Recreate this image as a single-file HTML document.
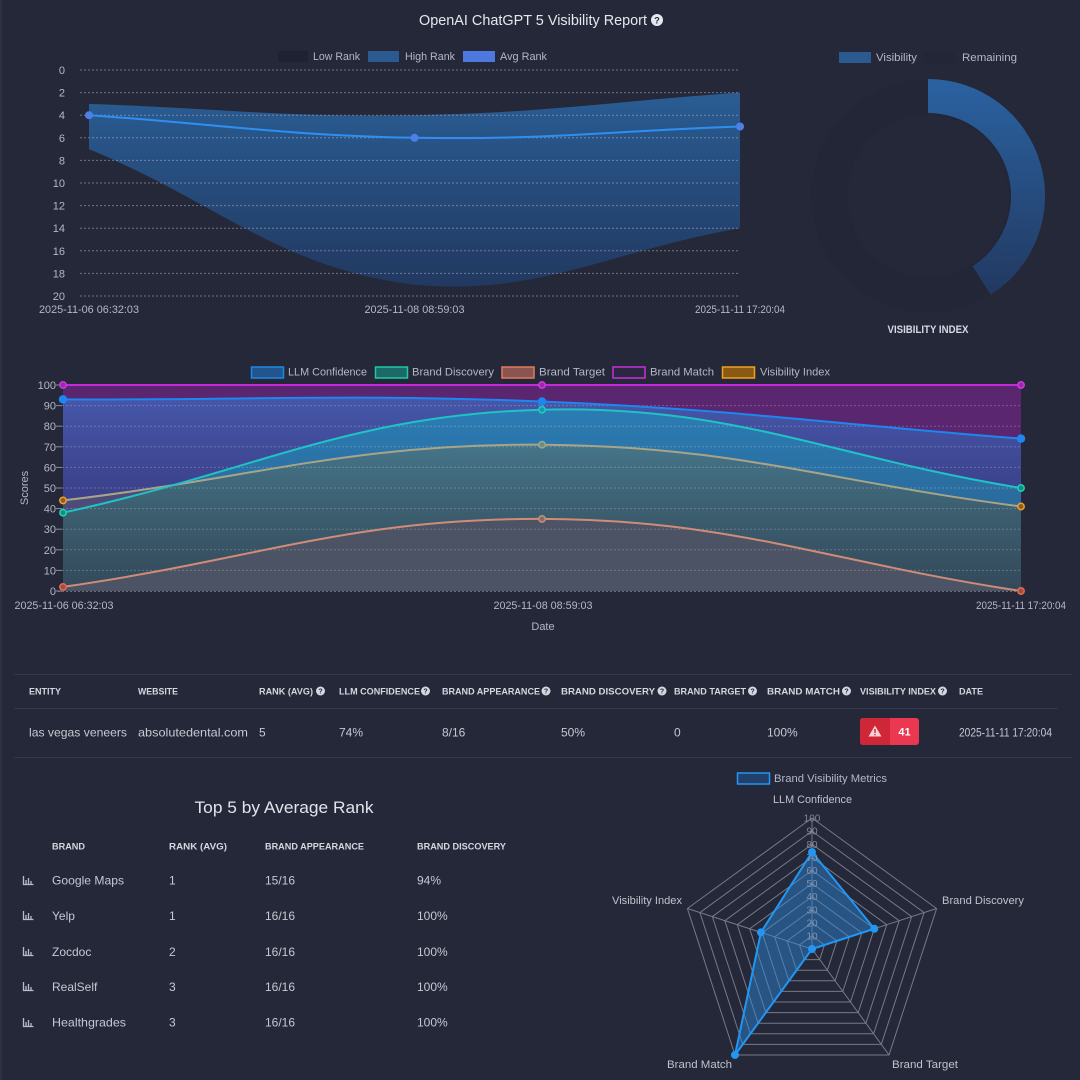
<!DOCTYPE html>
<html><head><meta charset="utf-8"><style>
html,body{margin:0;padding:0;background:#252839;}
svg{display:block;}
text{font-family:"Liberation Sans",sans-serif;}
</style></head><body>
<svg width="1080" height="1080" viewBox="0 0 1080 1080" xmlns="http://www.w3.org/2000/svg">
<defs>
<linearGradient id="band" x1="0" y1="90" x2="0" y2="296" gradientUnits="userSpaceOnUse">
<stop offset="0" stop-color="#2a5d94"/><stop offset="1" stop-color="#21375e"/></linearGradient>
<linearGradient id="vis" x1="0" y1="79" x2="0" y2="300" gradientUnits="userSpaceOnUse">
<stop offset="0" stop-color="#2a62a1"/><stop offset="1" stop-color="#22385f"/></linearGradient>
<linearGradient id="llmg" x1="0" y1="395" x2="0" y2="591" gradientUnits="userSpaceOnUse">
<stop offset="0" stop-color="#4657aa"/><stop offset="0.6" stop-color="#3a3d85"/><stop offset="1" stop-color="#363a78"/></linearGradient>
<linearGradient id="discg" x1="0" y1="405" x2="0" y2="520" gradientUnits="userSpaceOnUse">
<stop offset="0" stop-color="#2b7db5"/><stop offset="1" stop-color="#2b6898"/></linearGradient>
<linearGradient id="eg" x1="0" y1="440" x2="0" y2="591" gradientUnits="userSpaceOnUse">
<stop offset="0" stop-color="#46768b"/><stop offset="0.5" stop-color="#3b5d6e"/><stop offset="1" stop-color="#33495a"/></linearGradient>
<clipPath id="discclip"><path d="M63,512.7 C254.6,471.5 349.5,414.7 542,409.7 C732.6,404.8 829.4,456.7 1021,488 L1021,591 L63,591 Z"/></clipPath>
</defs>

<rect x="0" y="0" width="1080" height="1080" fill="#252839"/>
<rect x="0" y="0" width="2" height="1080" fill="#2d3144"/>

<!-- Title -->
<text x="419" y="25" font-size="15" fill="#e6e7ee" textLength="228" lengthAdjust="spacingAndGlyphs">OpenAI ChatGPT 5 Visibility Report</text>
<circle cx="657" cy="20" r="6" fill="#e6e7ee"/>
<text x="657" y="23.5" font-size="9" font-weight="bold" fill="#252839" text-anchor="middle">?</text>

<!-- Top chart legend -->
<rect x="278" y="51" width="30" height="11" fill="#1f2232"/>
<text x="313" y="60" font-size="11" fill="#b4b7c4" textLength="47" lengthAdjust="spacingAndGlyphs">Low Rank</text>
<rect x="368" y="51" width="31" height="11" fill="#2a5a8f"/>
<text x="405" y="60" font-size="11" fill="#b4b7c4" textLength="50" lengthAdjust="spacingAndGlyphs">High Rank</text>
<rect x="463" y="51" width="32" height="11" fill="#4c78e0"/>
<text x="500" y="60" font-size="11" fill="#b4b7c4" textLength="47" lengthAdjust="spacingAndGlyphs">Avg Rank</text>

<!-- Top chart band -->
<path d="M89,103.9 C219.2,108.4 284.3,117.5 414.5,115.2 C544.7,112.9 609.8,101.6 740,92.6 L740,228.2 C609.8,250.8 540.5,296 414.5,284.7 C280.1,268.4 219.2,203.3 89,149.1 Z" fill="url(#band)"/>
<!-- top gridlines -->
<g stroke="#aeb0bd" stroke-opacity="0.55" stroke-width="1" stroke-dasharray="2 2">
<line x1="80" y1="70" x2="740" y2="70"/><line x1="80" y1="92.6" x2="740" y2="92.6"/>
<line x1="80" y1="115.2" x2="740" y2="115.2"/><line x1="80" y1="137.8" x2="740" y2="137.8"/>
<line x1="80" y1="160.4" x2="740" y2="160.4"/><line x1="80" y1="183" x2="740" y2="183"/>
<line x1="80" y1="205.6" x2="740" y2="205.6"/><line x1="80" y1="228.2" x2="740" y2="228.2"/>
<line x1="80" y1="250.8" x2="740" y2="250.8"/><line x1="80" y1="273.4" x2="740" y2="273.4"/>
<line x1="80" y1="296" x2="740" y2="296"/>
</g>
<g font-size="11" fill="#b4b7c4" text-anchor="end">
<text x="65" y="74">0</text><text x="65" y="96.6">2</text><text x="65" y="119.2">4</text>
<text x="65" y="141.8">6</text><text x="65" y="164.4">8</text><text x="65" y="187">10</text>
<text x="65" y="209.6">12</text><text x="65" y="232.2">14</text><text x="65" y="254.8">16</text>
<text x="65" y="277.4">18</text><text x="65" y="300">20</text>
</g>
<path d="M89,115.2 C219.2,124.2 284.3,135.5 414.5,137.8 C544.7,140.1 609.8,131 740,126.5" fill="none" stroke="#2f8ff0" stroke-width="2"/>
<g fill="#4f7fe6"><circle cx="89" cy="115.2" r="4"/><circle cx="414.5" cy="137.8" r="4"/><circle cx="740" cy="126.5" r="4"/></g>
<g font-size="11" fill="#b4b7c4" text-anchor="middle">
<text x="89" y="313" textLength="100" lengthAdjust="spacingAndGlyphs">2025-11-06 06:32:03</text>
<text x="414.5" y="313" textLength="100" lengthAdjust="spacingAndGlyphs">2025-11-08 08:59:03</text>
<text x="740" y="313" textLength="90" lengthAdjust="spacingAndGlyphs">2025-11-11 17:20:04</text>
</g>

<!-- Donut -->
<rect x="839" y="52" width="32" height="11" fill="#2a5a8f"/>
<text x="876" y="61" font-size="11" fill="#b4b7c4" textLength="41" lengthAdjust="spacingAndGlyphs">Visibility</text>
<rect x="923" y="52" width="32" height="11" fill="#232637"/>
<text x="962" y="61" font-size="11" fill="#b4b7c4" textLength="55" lengthAdjust="spacingAndGlyphs">Remaining</text>
<circle cx="928" cy="196" r="99" fill="none" stroke="#232636" stroke-width="36"/>
<path d="M928,79 A117,117 0 0 1 990.7,294.8 L972.5,266.1 A83,83 0 0 0 928,113 Z" fill="url(#vis)"/>
<text x="928" y="333" font-size="11" font-weight="bold" fill="#d8dae6" text-anchor="middle" textLength="81" lengthAdjust="spacingAndGlyphs">VISIBILITY INDEX</text>

<!-- Middle chart legend -->
<rect x="251.5" y="367" width="32" height="11" fill="#22558e" stroke="#1e88e5" stroke-width="1.5"/>
<text x="288" y="375.5" font-size="11" fill="#b4b7c4" textLength="79" lengthAdjust="spacingAndGlyphs">LLM Confidence</text>
<rect x="375.5" y="367" width="32" height="11" fill="#1c6a68" stroke="#1fc8a8" stroke-width="1.5"/>
<text x="412" y="375.5" font-size="11" fill="#b4b7c4" textLength="82" lengthAdjust="spacingAndGlyphs">Brand Discovery</text>
<rect x="502" y="367" width="32" height="11" fill="#8a5550" stroke="#e07a5f" stroke-width="1.5"/>
<text x="539" y="375.5" font-size="11" fill="#b4b7c4" textLength="66" lengthAdjust="spacingAndGlyphs">Brand Target</text>
<rect x="613" y="367" width="32" height="11" fill="#2b2742" stroke="#c530d8" stroke-width="1.5"/>
<text x="650" y="375.5" font-size="11" fill="#b4b7c4" textLength="64" lengthAdjust="spacingAndGlyphs">Brand Match</text>
<rect x="722.5" y="367" width="32" height="11" fill="#8a5a14" stroke="#f0a020" stroke-width="1.5"/>
<text x="760" y="375.5" font-size="11" fill="#b4b7c4" textLength="70" lengthAdjust="spacingAndGlyphs">Visibility Index</text>

<!-- Middle chart areas -->
<path d="M63,385 L1021,385 L1021,591 L63,591 Z" fill="#5a2670"/>
<path d="M63,399.4 C254.6,400.2 350.4,393.7 542,401.5 C733.6,409.3 829.4,423.8 1021,438.6 L1021,591 L63,591 Z" fill="url(#llmg)"/>
<path d="M63,500.4 C254.6,478.1 350.4,443.5 542,444.7 C733.6,445.9 829.4,481.8 1021,506.5 L1021,591 L63,591 Z" fill="#4d4b7a"/>
<path d="M63,512.7 C254.6,471.5 349.5,414.7 542,409.7 C732.6,404.8 829.4,456.7 1021,488 L1021,591 L63,591 Z" fill="url(#discg)"/>
<path clip-path="url(#discclip)" d="M63,500.4 C254.6,478.1 350.4,443.5 542,444.7 C733.6,445.9 829.4,481.8 1021,506.5 L1021,591 L63,591 Z" fill="url(#eg)"/>
<path d="M63,586.9 C254.6,559.7 350.4,518.1 542,518.9 C733.6,519.7 829.4,562.2 1021,591 L63,591 Z" fill="#4b5365"/>

<!-- middle gridlines -->
<g stroke="#ffffff" stroke-opacity="0.22" stroke-width="1" stroke-dasharray="2 2">
<line x1="62" y1="405.6" x2="1021" y2="405.6"/><line x1="62" y1="426.2" x2="1021" y2="426.2"/>
<line x1="62" y1="446.8" x2="1021" y2="446.8"/><line x1="62" y1="467.4" x2="1021" y2="467.4"/>
<line x1="62" y1="488" x2="1021" y2="488"/><line x1="62" y1="508.6" x2="1021" y2="508.6"/>
<line x1="62" y1="529.2" x2="1021" y2="529.2"/><line x1="62" y1="549.8" x2="1021" y2="549.8"/>
<line x1="62" y1="570.4" x2="1021" y2="570.4"/>
</g>
<line x1="58" y1="591.5" x2="1021" y2="591.5" stroke="#aeb0bd" stroke-opacity="0.5" stroke-dasharray="2 2"/>
<g stroke="#8a8d9c" stroke-width="1">
<line x1="56" y1="385" x2="62" y2="385"/><line x1="56" y1="405.6" x2="62" y2="405.6"/>
<line x1="56" y1="426.2" x2="62" y2="426.2"/><line x1="56" y1="446.8" x2="62" y2="446.8"/>
<line x1="56" y1="467.4" x2="62" y2="467.4"/><line x1="56" y1="488" x2="62" y2="488"/>
<line x1="56" y1="508.6" x2="62" y2="508.6"/><line x1="56" y1="529.2" x2="62" y2="529.2"/>
<line x1="56" y1="549.8" x2="62" y2="549.8"/><line x1="56" y1="570.4" x2="62" y2="570.4"/>
<line x1="56" y1="591" x2="62" y2="591"/>
</g>
<g font-size="11" fill="#b4b7c4" text-anchor="end">
<text x="56" y="389">100</text><text x="56" y="409.6">90</text><text x="56" y="430.2">80</text>
<text x="56" y="450.8">70</text><text x="56" y="471.4">60</text><text x="56" y="492">50</text>
<text x="56" y="512.6">40</text><text x="56" y="533.2">30</text><text x="56" y="553.8">20</text>
<text x="56" y="574.4">10</text><text x="56" y="595">0</text>
</g>
<text transform="translate(28,488) rotate(-90)" font-size="11" fill="#b4b7c4" text-anchor="middle">Scores</text>

<!-- middle lines -->
<path d="M63,586.9 C254.6,559.7 350.4,518.1 542,518.9 C733.6,519.7 829.4,562.2 1021,591" fill="none" stroke="#cf8c78" stroke-width="2"/>
<path d="M63,500.4 C254.6,478.1 350.4,443.5 542,444.7 C733.6,445.9 829.4,481.8 1021,506.5" fill="none" stroke="#a8a488" stroke-width="2"/>
<path d="M63,512.7 C254.6,471.5 349.5,414.7 542,409.7 C732.6,404.8 829.4,456.7 1021,488" fill="none" stroke="#20c2c6" stroke-width="2"/>
<path d="M63,399.4 C254.6,400.2 350.4,393.7 542,401.5 C733.6,409.3 829.4,423.8 1021,438.6" fill="none" stroke="#1e86ef" stroke-width="2"/>
<line x1="63" y1="385" x2="1021" y2="385" stroke="#c52ad8" stroke-width="2"/>
<!-- points -->
<g stroke-width="1.5">
<circle cx="63" cy="586.9" r="3.2" fill="#9a5048" stroke="#e86a50"/>
<circle cx="542" cy="518.9" r="3.2" fill="#8a6a62" stroke="#c09080"/>
<circle cx="1021" cy="591" r="3.2" fill="#9a5048" stroke="#e86a50"/>
<circle cx="63" cy="500.4" r="3.2" fill="#8a6020" stroke="#f0a030"/>
<circle cx="542" cy="444.7" r="3.2" fill="#6e8a80" stroke="#98a890"/>
<circle cx="1021" cy="506.5" r="3.2" fill="#8a6020" stroke="#f0a030"/>
<circle cx="63" cy="512.7" r="3.2" fill="#1a8a80" stroke="#20d0b8"/>
<circle cx="542" cy="409.7" r="3.2" fill="#1a9aa8" stroke="#20c8c8"/>
<circle cx="1021" cy="488" r="3.2" fill="#1a8a80" stroke="#20d0b8"/>
<circle cx="63" cy="399.4" r="3.5" fill="#1e86ef" stroke="#1e86ef"/>
<circle cx="542" cy="401.5" r="3.5" fill="#1e86ef" stroke="#1e86ef"/>
<circle cx="1021" cy="438.6" r="3.5" fill="#1e86ef" stroke="#1e86ef"/>
<circle cx="63" cy="385" r="3.2" fill="#9a2aa8" stroke="#d03ae0"/>
<circle cx="542" cy="385" r="3.2" fill="#9a2aa8" stroke="#d03ae0"/>
<circle cx="1021" cy="385" r="3.2" fill="#9a2aa8" stroke="#d03ae0"/>
</g>
<g font-size="11" fill="#b4b7c4" text-anchor="middle">
<text x="64" y="609" textLength="99" lengthAdjust="spacingAndGlyphs">2025-11-06 06:32:03</text>
<text x="543" y="609" textLength="99" lengthAdjust="spacingAndGlyphs">2025-11-08 08:59:03</text>
<text x="1021" y="609" textLength="90" lengthAdjust="spacingAndGlyphs">2025-11-11 17:20:04</text>
<text x="543" y="630">Date</text>
</g>

<!-- Table -->
<g stroke="#34384b" stroke-width="1">
<line x1="14" y1="674.5" x2="1072" y2="674.5"/>
<line x1="14" y1="708.5" x2="1058" y2="708.5"/>
<line x1="14" y1="757.5" x2="1072" y2="757.5"/>
</g>
<g font-size="9.5" font-weight="bold" fill="#d4d6e0">
<text x="29" y="694.5" textLength="32" lengthAdjust="spacingAndGlyphs">ENTITY</text>
<text x="138" y="694.5" textLength="40" lengthAdjust="spacingAndGlyphs">WEBSITE</text>
<text x="259" y="694.5" textLength="54" lengthAdjust="spacingAndGlyphs">RANK (AVG)</text>
<text x="339" y="694.5" textLength="81" lengthAdjust="spacingAndGlyphs">LLM CONFIDENCE</text>
<text x="442" y="694.5" textLength="98" lengthAdjust="spacingAndGlyphs">BRAND APPEARANCE</text>
<text x="561" y="694.5" textLength="94" lengthAdjust="spacingAndGlyphs">BRAND DISCOVERY</text>
<text x="674" y="694.5" textLength="72" lengthAdjust="spacingAndGlyphs">BRAND TARGET</text>
<text x="767" y="694.5" textLength="73" lengthAdjust="spacingAndGlyphs">BRAND MATCH</text>
<text x="860" y="694.5" textLength="76" lengthAdjust="spacingAndGlyphs">VISIBILITY INDEX</text>
<text x="959" y="694.5" textLength="24" lengthAdjust="spacingAndGlyphs">DATE</text>
</g>
<g fill="#d4d6e0">
<circle cx="320.5" cy="691" r="4.5"/><circle cx="425.5" cy="691" r="4.5"/><circle cx="546" cy="691" r="4.5"/>
<circle cx="662" cy="691" r="4.5"/><circle cx="752.5" cy="691" r="4.5"/><circle cx="846.5" cy="691" r="4.5"/>
<circle cx="942.5" cy="691" r="4.5"/>
</g>
<g font-size="7" font-weight="bold" fill="#252839" text-anchor="middle">
<text x="320.5" y="693.5">?</text><text x="425.5" y="693.5">?</text><text x="546" y="693.5">?</text>
<text x="662" y="693.5">?</text><text x="752.5" y="693.5">?</text><text x="846.5" y="693.5">?</text>
<text x="942.5" y="693.5">?</text>
</g>
<g font-size="12" fill="#c6c8d2">
<text x="29" y="736.5" textLength="98" lengthAdjust="spacingAndGlyphs">las vegas veneers</text>
<text x="138" y="736.5" textLength="110" lengthAdjust="spacingAndGlyphs">absolutedental.com</text>
<text x="259" y="736.5">5</text>
<text x="339" y="736.5">74%</text>
<text x="442" y="736.5">8/16</text>
<text x="561" y="736.5">50%</text>
<text x="674" y="736.5">0</text>
<text x="767" y="736.5">100%</text>
<text x="959" y="736.5" textLength="93" lengthAdjust="spacingAndGlyphs">2025-11-11 17:20:04</text>
</g>
<rect x="860" y="718" width="59" height="27" rx="3" fill="#ea3850"/>
<path d="M863,718 L890,718 L890,745 L863,745 A3,3 0 0 1 860,742 L860,721 A3,3 0 0 1 863,718 Z" fill="#cf2738"/>
<path d="M875,725.5 L881.5,736.5 L868.5,736.5 Z" fill="#f6d2d2"/>
<rect x="874.3" y="729" width="1.4" height="4" fill="#cf2738"/>
<rect x="874.3" y="734" width="1.4" height="1.3" fill="#cf2738"/>
<text x="904.5" y="735.5" font-size="11" font-weight="bold" fill="#ffffff" text-anchor="middle">41</text>

<!-- Top 5 -->
<text x="284" y="813" font-size="17" fill="#e2e4ec" text-anchor="middle" textLength="179" lengthAdjust="spacingAndGlyphs">Top 5 by Average Rank</text>
<g font-size="9.5" font-weight="bold" fill="#d4d6e0">
<text x="52" y="849.5" textLength="33" lengthAdjust="spacingAndGlyphs">BRAND</text>
<text x="169" y="849.5" textLength="58" lengthAdjust="spacingAndGlyphs">RANK (AVG)</text>
<text x="265" y="849.5" textLength="99" lengthAdjust="spacingAndGlyphs">BRAND APPEARANCE</text>
<text x="417" y="849.5" textLength="89" lengthAdjust="spacingAndGlyphs">BRAND DISCOVERY</text>
</g>
<g fill="none" stroke="#b8bccc" stroke-width="1.3">
<path d="M23.5,876 V884.5 H33.5 M26,884 V880 M28.5,884 V878 M31,884 V881"/>
<path d="M23.5,911 V919.5 H33.5 M26,919 V915 M28.5,919 V913 M31,919 V916"/>
<path d="M23.5,947 V955.5 H33.5 M26,955 V951 M28.5,955 V949 M31,955 V952"/>
<path d="M23.5,982 V990.5 H33.5 M26,990 V986 M28.5,990 V984 M31,990 V987"/>
<path d="M23.5,1018 V1026.5 H33.5 M26,1026 V1022 M28.5,1026 V1020 M31,1026 V1023"/>
</g>
<g font-size="12" fill="#c6c8d2">
<text x="52" y="884.5" textLength="72" lengthAdjust="spacingAndGlyphs">Google Maps</text><text x="169" y="884.5">1</text><text x="265" y="884.5">15/16</text><text x="417" y="884.5">94%</text>
<text x="52" y="920">Yelp</text><text x="169" y="920">1</text><text x="265" y="920">16/16</text><text x="417" y="920">100%</text>
<text x="52" y="956">Zocdoc</text><text x="169" y="956">2</text><text x="265" y="956">16/16</text><text x="417" y="956">100%</text>
<text x="52" y="991">RealSelf</text><text x="169" y="991">3</text><text x="265" y="991">16/16</text><text x="417" y="991">100%</text>
<text x="52" y="1026.5" textLength="74" lengthAdjust="spacingAndGlyphs">Healthgrades</text><text x="169" y="1026.5">3</text><text x="265" y="1026.5">16/16</text><text x="417" y="1026.5">100%</text>
</g>

<!-- Radar -->
<rect x="737.5" y="773" width="32" height="11" fill="#23406a" stroke="#2196f3" stroke-width="1.5"/>
<text x="774" y="782" font-size="11" fill="#b4b7c4" textLength="113" lengthAdjust="spacingAndGlyphs">Brand Visibility Metrics</text>
<g fill="none" stroke="#767985" stroke-width="1">
<polygon points="812,935.9 824.46,944.95 819.70,959.60 804.30,959.60 799.54,944.95"/>
<polygon points="812,922.8 836.92,940.90 827.40,970.20 796.60,970.20 787.08,940.90"/>
<polygon points="812,909.7 849.38,936.86 835.10,980.79 788.90,980.79 774.62,936.86"/>
<polygon points="812,896.6 861.84,932.81 842.80,991.39 781.20,991.39 762.16,932.81"/>
<polygon points="812,883.5 874.30,928.76 850.50,1001.99 773.50,1001.99 749.70,928.76"/>
<polygon points="812,870.4 886.76,924.71 858.20,1012.59 765.80,1012.59 737.24,924.71"/>
<polygon points="812,857.3 899.22,920.66 865.90,1023.19 758.10,1023.19 724.78,920.66"/>
<polygon points="812,844.2 911.68,916.62 873.60,1033.78 750.40,1033.78 712.32,916.62"/>
<polygon points="812,831.1 924.14,912.57 881.30,1044.38 742.70,1044.38 699.86,912.57"/>
<polygon points="812,818 936.59,908.52 889.00,1054.98 735.00,1054.98 687.41,908.52"/>
<line x1="812" y1="949" x2="812" y2="818"/>
<line x1="812" y1="949" x2="936.59" y2="908.52"/>
<line x1="812" y1="949" x2="889" y2="1054.98"/>
<line x1="812" y1="949" x2="735" y2="1054.98"/>
<line x1="812" y1="949" x2="687.41" y2="908.52"/>
</g>
<polygon points="812,852.1 874.30,928.76 812,949 735,1054.98 760.92,932.40" fill="#2d8ae0" fill-opacity="0.45" stroke="#2196f3" stroke-width="2" stroke-linejoin="round"/>
<g font-size="10" fill="#a0a3b0" fill-opacity="0.75" text-anchor="middle">
<text x="812" y="939.5">10</text><text x="812" y="926.4">20</text><text x="812" y="913.3">30</text>
<text x="812" y="900.2">40</text><text x="812" y="887.1">50</text><text x="812" y="874">60</text>
<text x="812" y="860.9">70</text><text x="812" y="847.8">80</text><text x="812" y="834.7">90</text>
<text x="812" y="821.6">100</text>
</g>
<g fill="#2196f3">
<circle cx="812" cy="852.1" r="4"/><circle cx="874.3" cy="928.76" r="4"/><circle cx="812" cy="949" r="4"/>
<circle cx="735" cy="1054.98" r="4"/><circle cx="760.92" cy="932.4" r="4"/>
</g>
<g font-size="11" fill="#c0c2cc">
<text x="773" y="803" textLength="79" lengthAdjust="spacingAndGlyphs">LLM Confidence</text>
<text x="942" y="904" textLength="82" lengthAdjust="spacingAndGlyphs">Brand Discovery</text>
<text x="612" y="904" textLength="70" lengthAdjust="spacingAndGlyphs">Visibility Index</text>
<text x="667" y="1068" textLength="65" lengthAdjust="spacingAndGlyphs">Brand Match</text>
<text x="892" y="1068" textLength="66" lengthAdjust="spacingAndGlyphs">Brand Target</text>
</g>
</svg>
</body></html>
